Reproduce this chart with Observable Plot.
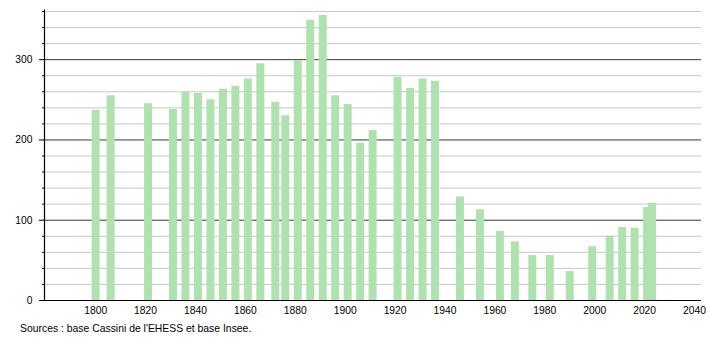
<!DOCTYPE html>
<html>
<head>
<meta charset="utf-8">
<script src="https://cdn.jsdelivr.net/npm/d3@7"></script>
<script src="https://cdn.jsdelivr.net/npm/@observablehq/plot@0.6"></script>
<style>
  html, body { margin: 0; padding: 0; background: #fff; }
  #chart svg { display: block; }
  #caption { font-family: "Liberation Sans", Arial, sans-serif; font-size: 10.4px; color: #000; margin: 2px 0 0 20px; line-height: 13px; }
</style>
</head>
<body>
<div id="chart"></div>
<div id="caption">Sources : base Cassini de l'EHESS et base Insee.</div>
<script>
const years = [1800, 1806, 1821, 1831, 1836, 1841, 1846, 1851, 1856, 1861, 1866, 1872, 1876, 1881, 1886, 1891, 1896, 1901, 1906, 1911, 1921, 1926, 1931, 1936, 1946, 1954, 1962, 1968, 1975, 1982, 1990, 1999, 2006, 2011, 2016, 2021, 2023];
const population = [237, 255, 245, 238, 259, 258, 250, 263, 267, 276, 295, 247, 230, 299, 349, 355, 255, 244, 196, 212, 278, 264, 276, 273, 129, 113, 86, 73, 56, 56, 36, 67, 80, 91, 90, 116, 121];
const xTicks = [1800, 1820, 1840, 1860, 1880, 1900, 1920, 1940, 1960, 1980, 2000, 2020, 2040];
const yMajor = [0, 100, 200, 300];
const yMinor = [20, 40, 60, 80, 120, 140, 160, 180, 220, 240, 260, 280, 320, 340, 360];

const data = years.map((year, i) => ({year, population: population[i]}));
const xDomain = [1779.5, 2042.8];

const chart = Plot.plot({
  width: 710,
  height: 320,
  marginLeft: 44,
  marginRight: 9,
  marginTop: 11,
  marginBottom: 20,
  style: {fontFamily: "'Liberation Sans', Arial, sans-serif", fontSize: "10.3px", color: "#000", background: "#fff"},
  x: {domain: xDomain, label: null},
  y: {domain: [0, 360], label: null},
  marks: [
    Plot.ruleY(yMinor, {stroke: "#c8c8c8", strokeWidth: 1, strokeOpacity: 1}),
    Plot.ruleY(yMajor.filter(d => d > 0), {stroke: "#3a3a3a", strokeWidth: 1, strokeOpacity: 1}),
    Plot.ruleX(data, {x: "year", y1: 0, y2: "population", stroke: "#afe2af", strokeWidth: 8}),
    Plot.ruleY([0], {stroke: "#000", strokeWidth: 1.2}),
    Plot.ruleX([xDomain[0]], {y1: 0, y2: 362, stroke: "#000", strokeWidth: 1.2}),
    Plot.axisY(yMinor, {tickSize: 2, tickFormat: () => "", stroke: "#000", label: null}),
    Plot.axisY(yMajor, {tickSize: 5, tickPadding: 7, stroke: "#000", label: null}),
    Plot.axisX(xTicks, {tickSize: 0, tickPadding: 6, tickFormat: d => String(d), label: null})
  ]
});
document.getElementById("chart").appendChild(chart);
</script>
</body>
</html>
